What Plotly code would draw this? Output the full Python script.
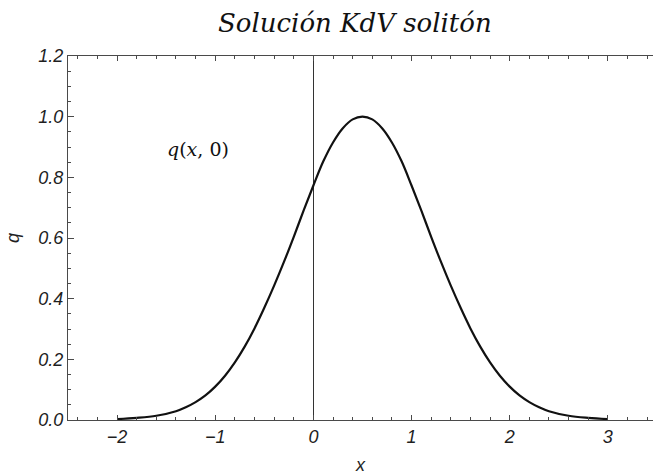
import plotly.graph_objects as go

# Initial soliton profile q(x, 0), sampled along the curve
x_vals = [-2.0, -1.8, -1.6, -1.4, -1.3, -1.2, -1.1, -1.0, -0.9, -0.8,
          -0.7, -0.6, -0.5, -0.4, -0.3, -0.2, -0.1, 0.0, 0.1, 0.2,
          0.3, 0.4, 0.5, 0.6, 0.7, 0.8, 0.9, 1.0, 1.1, 1.2,
          1.3, 1.4, 1.5, 1.6, 1.7, 1.8, 1.9, 2.0, 2.1, 2.2,
          2.3, 2.4, 2.6, 2.8, 3.0]
q_vals = [0.003, 0.007, 0.014, 0.029, 0.042, 0.059, 0.081, 0.110, 0.146, 0.190,
          0.242, 0.302, 0.370, 0.443, 0.521, 0.604, 0.690, 0.773, 0.852, 0.915,
          0.962, 0.991, 1.000, 0.991, 0.962, 0.915, 0.852, 0.773, 0.690, 0.604,
          0.521, 0.443, 0.370, 0.302, 0.242, 0.190, 0.146, 0.110, 0.081, 0.059,
          0.042, 0.029, 0.014, 0.007, 0.003]

x_ticks = [-2, -1, 0, 1, 2, 3]
y_ticks = [0.0, 0.2, 0.4, 0.6, 0.8, 1.0, 1.2]
y_tick_text = [f"{v:.1f}" for v in y_ticks]

title_text = "<i>Solución KdV solitón</i>"
curve_label = "<i>q</i>(<i>x</i>, 0)"

frame_color = "#4a4a4a"
label_color = "#1f1f1f"
tick_font = dict(family="Liberation Sans", size=18, color=label_color, style="italic")

fig = go.Figure()
fig.add_trace(go.Scatter(
    x=x_vals, y=q_vals, mode="lines",
    line=dict(color="#111111", width=2.2, shape="spline", smoothing=1.0),
    showlegend=False, hoverinfo="skip",
))

fig.update_layout(
    width=653, height=474,
    margin=dict(l=68, r=0, t=56, b=54),
    paper_bgcolor="white", plot_bgcolor="white",
    showlegend=False,
    xaxis=dict(
        range=[-2.5, 3.46], tickvals=x_ticks,
        showgrid=False, zeroline=True, zerolinecolor="#333333", zerolinewidth=1,
        showline=True, linecolor=frame_color, linewidth=1, mirror="ticks",
        ticks="inside", ticklen=5, tickcolor=frame_color,
        minor=dict(dtick=0.2, ticks="inside", ticklen=3, tickcolor=frame_color, showgrid=False),
        tickfont=tick_font,
    ),
    yaxis=dict(
        range=[0, 1.2], tickvals=y_ticks, ticktext=y_tick_text,
        showgrid=False, zeroline=False,
        showline=True, linecolor=frame_color, linewidth=1, mirror=False,
        ticks="inside", ticklen=6, tickcolor=frame_color,
        minor=dict(dtick=0.05, ticks="inside", ticklen=3, tickcolor=frame_color, showgrid=False),
        tickfont=tick_font,
    ),
    annotations=[
        dict(text=title_text, xref="paper", yref="paper", x=0.49, y=1.0,
             yshift=33, xanchor="center", yanchor="middle", showarrow=False,
             font=dict(family="DejaVu Serif", size=26, color="#111111")),
        dict(text=curve_label, xref="x", yref="y", x=-1.18, y=0.893,
             xanchor="center", yanchor="middle", showarrow=False,
             font=dict(family="DejaVu Serif", size=19, color="#111111")),
        dict(text="x", xref="paper", yref="paper", x=0.5, y=0.0, yshift=-45,
             xanchor="center", yanchor="middle", showarrow=False,
             font=dict(family="Liberation Sans", size=18, color=label_color, style="italic")),
        dict(text="q", xref="paper", yref="paper", x=0.0, y=0.5, xshift=-55,
             xanchor="center", yanchor="middle", showarrow=False, textangle=-90,
             font=dict(family="Liberation Sans", size=18, color=label_color, style="italic")),
    ],
)

fig.write_html("out.html")
